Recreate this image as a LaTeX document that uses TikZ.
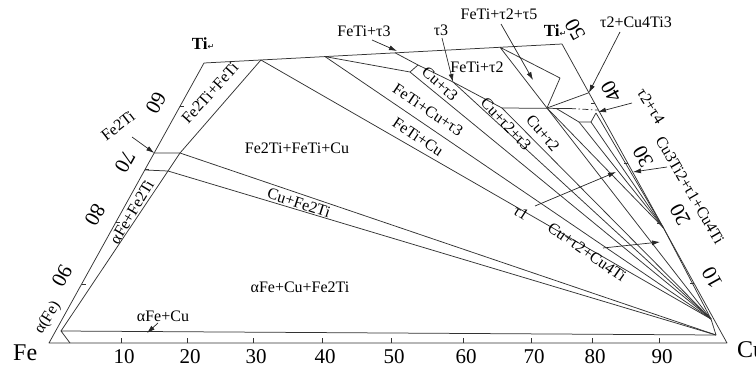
\documentclass[tikz,border=0pt]{standalone}
\usepackage{fontspec}
\setmainfont{Liberation Serif}
\newfontfamily\symfont{DejaVu Sans}
\usetikzlibrary{arrows.meta,calc}
\begin{document}
\begin{tikzpicture}[x=1pt,y=-1pt,
  pline/.style={draw=black!80,line width=0.75pt,line join=round},
  dashdot/.style={draw=black!80,line width=0.75pt,dash pattern=on 6pt off 2.5pt on 1.5pt off 2.5pt},
  tickmark/.style={draw=black!80,line width=0.7pt},
  arr/.style={draw=black!85,line width=0.7pt,-{Latex[length=8pt,width=5pt]}},
  lbl/.style={font=\fontsize{16}{16}\selectfont,inner sep=0pt},
  num/.style={font=\fontsize{21}{21}\selectfont,inner sep=0pt},
  cornerlab/.style={font=\fontsize{24}{24}\selectfont,inner sep=0pt},
  tilab/.style={font=\bfseries\fontsize{17}{17}\selectfont,inner sep=0pt}]

\useasboundingbox (0,0) rectangle (756,367);

% corners of the section
\coordinate (Fe) at (49,343);
\coordinate (Cu) at (727,343);
\coordinate (TL) at (204,63);
\coordinate (TR) at (562,44);

% alpha-Fe and Fe2Ti fields
\coordinate (A)  at (61,331);
\coordinate (A0) at (70,343);
\coordinate (L1) at ($(Fe)!0.6786!(TL)$);
\coordinate (L2) at ($(Fe)!0.6179!(TL)$);
\coordinate (G1) at (180,153);
\coordinate (G2) at (168,171);

% FeTi limits on the upper side
\coordinate (F1) at ($(TL)!0.159!(TR)$);
\coordinate (F2) at ($(TL)!0.338!(TR)$);
\coordinate (F3) at ($(TL)!0.534!(TR)$);
\coordinate (F5) at ($(TL)!0.827!(TR)$);

% tau3, tau2, tau4, tau5 fields
\coordinate (Q1) at (410,72);
\coordinate (Q2) at (418,65);
\coordinate (Q3) at (453,82);
\coordinate (T2a) at (502,108);
\coordinate (T2b) at (547,108);
\coordinate (T2c) at (570,108.5);
\coordinate (P5) at (560,78);
\coordinate (U1) at (556,108.3);
\coordinate (U2) at (579,122);
\coordinate (U3) at (591,122);
\coordinate (U4) at (596,113);

% points on the Cu-Ti side
\coordinate (M) at ($(Cu)!0.779!(TR)$);
\coordinate (N) at ($(Cu)!0.837!(TR)$);
\coordinate (K) at ($(Cu)!0.385!(TR)$);
\coordinate (C)  at (711,319);
\coordinate (C2) at (716,335);

% outline
\draw[pline] (Fe) -- (TL) -- (TR) -- (Cu) -- cycle;

% alpha(Fe) corner and alphaFe+Cu band
\draw[pline] (A0) -- (A) -- (C2);
\draw[pline] (A) -- (G2) -- (G1) -- (F1);

% Cu+Fe2Ti band
\draw[pline] (L1) -- (G1) -- (C2);
\draw[pline] (L2) -- (G2) -- (C2);

% FeTi, tau3 and tau2 tie fields to Cu
\draw[pline] (F1) -- (C);
\draw[pline] (F2) -- (C);
\draw[pline] (F2) -- (Q1) -- (Q2);
\draw[pline] (F3) -- (Q2) -- (Q3) -- (T2a) -- (T2c);
\draw[pline] (Q1) -- (C);
\draw[pline] (Q3) -- (C);
\draw[pline] (T2a) -- (C);
\draw[pline] (T2b) -- (C);
\draw[pline] (K) -- (C) -- (C2);
\draw[dashdot] (T2c) -- (M);

% FeTi+tau2+tau5 triangle
\draw[pline] (F5) -- (P5) -- (T2b) -- cycle;

% tau2+Cu4Ti3, tau2+tau4 and Cu4Ti fields
\draw[pline] (T2b) -- (N);
\draw[pline] (U1) -- (U2) -- (U3) -- (U4);
\draw[pline] (T2b) -- (K);
\draw[pline] (U2) -- (K);
\draw[pline] (U3) -- (K);
\draw[pline] (U4) -- (K);

% ticks on the Fe-Cu side
\foreach \x/\v in {121/10,187/20,253/30,322/40,391/50,463/60,531/70,592/80,659/90}{
  \coordinate (bt\v) at (\x,343);
  \draw[tickmark] (bt\v) -- ++(0,-5);
  \node[num,anchor=base] (bn\v) at (\x+3,363) {\v};
}

% ticks and numbers on the Fe-Ti side
\foreach \t/\v/\lx/\ly in {0.21/90/62/276,0.43/80/95/215,0.62/70/125/162,0.845/60/156/103}{
  \coordinate (lt\v) at ($(Fe)!\t!(TL)$);
  \draw[tickmark] (lt\v) -- ++(4,0);
  \node[num,rotate=241] (ln\v) at (\lx,\ly) {\v};
}

% ticks and numbers on the Cu-Ti side
\foreach \t/\v/\lx/\ly in {0.2/10/712/278,0.4/20/680/215,0.6/30/643/157,0.8/40/611/92}{
  \coordinate (rt\v) at ($(Cu)!\t!(TR)$);
  \draw[tickmark] (rt\v) -- ++(-4,0);
  \node[num,rotate=119] (rn\v) at (\lx,\ly) {\v};
}
\node[num,rotate=119] (rn50) at (575,30) {50};

% corner labels
\node[cornerlab,anchor=base west] (feL) at (13,360) {Fe};
\node[cornerlab,anchor=base west] (cuL) at (737,357) {Cu};
\node[tilab] (tiL) at (203,44) {Ti{\symfont\mdseries\fontsize{8}{8}\selectfont ↵}};
\node[tilab] (tiR) at (555,31) {Ti{\symfont\mdseries\fontsize{8}{8}\selectfont ↵}};

% field labels
\node[lbl,rotate=58] (aFe) at (48,318) {α(Fe)};
\node[lbl] (aFeCu) at (163,316) {αFe+Cu};
\node[lbl,rotate=59] (aFeFe2Ti) at (132,212) {αFe+Fe2Ti};
\node[lbl,rotate=38] (fe2ti) at (118,126) {Fe2Ti};
\node[lbl,rotate=48] (fe2tiFeTi) at (210,93) {Fe2Ti+FeTi};
\node[lbl] (fe2tiFeTiCu) at (297,148) {Fe2Ti+FeTi+Cu};
\node[lbl,rotate=-18] (cuFe2Ti) at (299,203) {Cu+Fe2Ti};
\node[lbl] (aFeCuFe2Ti) at (300,287) {αFe+Cu+Fe2Ti};
\node[lbl,rotate=-34] (feTiCu) at (418,137) {FeTi+Cu};
\node[lbl,rotate=-34] (feTiCuT3) at (428,110) {FeTi+Cu+τ3};
\node[lbl,rotate=-42] (cuT3) at (440,84) {Cu+τ3};
\node[lbl] (feTiT3) at (364,31) {FeTi+τ3};
\node[lbl] (t3) at (441,30) {τ3};
\node[lbl] (feTiT2) at (477,67) {FeTi+τ2};
\node[lbl] (feTiT2T5) at (499,14) {FeTi+τ2+τ5};
\node[lbl] (t2Cu4Ti3) at (636,22) {τ2+Cu4Ti3};
\node[lbl,rotate=-47] (cuT2T3) at (506,124) {Cu+τ2+τ3};
\node[lbl,rotate=-50] (cuT2) at (543,133) {Cu+τ2};
\node[lbl,rotate=-58] (t2t4) at (651,106) {τ2+τ4};
\node[lbl,rotate=-60] (cu3ti2) at (690,190) {Cu3Ti2+τ1+Cu4Ti};
\node[lbl,rotate=-33] (t1) at (521,213) {τ1};
\node[lbl,rotate=-35] (cuT2Cu4Ti) at (587,252) {Cu+τ2+Cu4Ti};

% pointer arrows
\coordinate (s1) at (372,40);   \coordinate (e1) at (397,51);
\coordinate (s2) at (442,38);
\coordinate (s3) at (501,24);   \coordinate (e3) at (533,80);
\coordinate (s4) at (620,32);
\coordinate (s5) at (632,103);  \coordinate (e5) at (598,112);
\coordinate (s6) at (667,167);  \coordinate (e6) at (633,172);
\coordinate (s7) at (535,206);  \coordinate (e7) at (616,172);
\coordinate (s8) at (603,248);  \coordinate (e8) at (660,242);
\coordinate (s9) at (132,137);
\coordinate (s10) at (158,323); \coordinate (e10) at (147,333);
\draw[arr] (s1) -- (e1);
\draw[arr] (s2) -- (Q3);
\draw[arr] (s3) -- (e3);
\draw[arr] (s4) -- (N);
\draw[arr] (s5) -- (e5);
\draw[arr] (s6) -- (e6);
\draw[arr] (s7) -- (e7);
\draw[arr] (s8) -- (e8);
\draw[arr] (s9) -- (L1);
\draw[arr] (s10) -- (e10);
\end{tikzpicture}
\end{document}
